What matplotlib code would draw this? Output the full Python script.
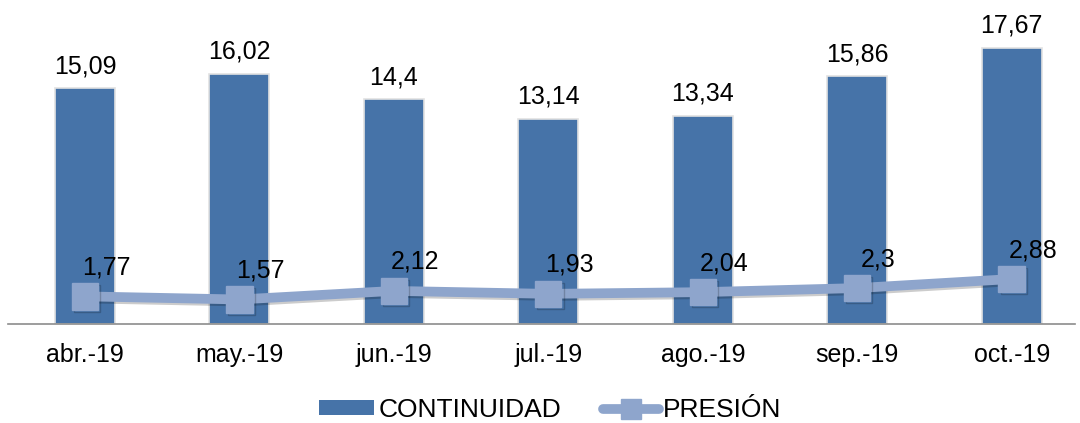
import matplotlib.pyplot as plt
import matplotlib.patheffects as pe
from matplotlib.lines import Line2D
from matplotlib.patches import Patch

plt.rcParams['font.family'] = ['Liberation Sans', 'DejaVu Sans']

meses = ['abr.-19', 'may.-19', 'jun.-19', 'jul.-19', 'ago.-19', 'sep.-19', 'oct.-19']
continuidad = [15.09, 16.02, 14.4, 13.14, 13.34, 15.86, 17.67]
presion = [1.77, 1.57, 2.12, 1.93, 2.04, 2.3, 2.88]

color_barra = '#4673A8'
color_linea = '#8EA5CC'

def fmt(v):
    return ('%g' % v).replace('.', ',')

fig = plt.figure(figsize=(10.8, 4.23), dpi=100)
ax = fig.add_axes([8 / 1080, 99 / 423, 1067 / 1080, 324 / 423])

x = list(range(len(meses)))
barras = ax.bar(x, continuidad, width=0.39, color=color_barra,
                edgecolor='#e2e2e2', linewidth=1.2, zorder=2)
ax.plot(x, presion, color=color_linea, lw=7, marker='s', ms=19,
        mfc=color_linea, mec=color_linea, solid_capstyle='round', zorder=3,
        path_effects=[pe.SimpleLineShadow(offset=(1.5, -1.5), alpha=0.2), pe.Normal()])

for xi, v in zip(x, continuidad):
    ax.annotate(fmt(v), (xi, v), xytext=(0, 10), textcoords='offset pixels',
                ha='center', va='bottom', fontsize=18)
for xi, v in zip(x, presion):
    ax.annotate(fmt(v), (xi, v), xytext=(21, 17), textcoords='offset pixels',
                ha='center', va='bottom', fontsize=18)

ax.set_xlim(-0.498, 6.41)
ax.set_ylim(0, 20.74)
ax.set_xticks(x)
ax.set_xticklabels(meses, fontsize=18)
ax.tick_params(axis='x', length=0, pad=14)
ax.set_yticks([])
for s in ['top', 'right', 'left']:
    ax.spines[s].set_visible(False)
ax.spines['bottom'].set_color('#8c8c8c')
ax.spines['bottom'].set_linewidth(1.2)

handles = [Patch(facecolor=color_barra, edgecolor='none'),
           Line2D([], [], color=color_linea, lw=7, marker='s', ms=15,
                  solid_capstyle='round')]
fig.legend(handles, ['CONTINUIDAD', 'PRESIÓN'], loc='center',
           bbox_to_anchor=(550 / 1080, 1 - 410 / 423), ncol=2, frameon=False,
           fontsize=19, handlelength=2.1, handletextpad=0.15, columnspacing=1.6,
           handleheight=0.5)

fig.savefig('out.png', dpi=100)
